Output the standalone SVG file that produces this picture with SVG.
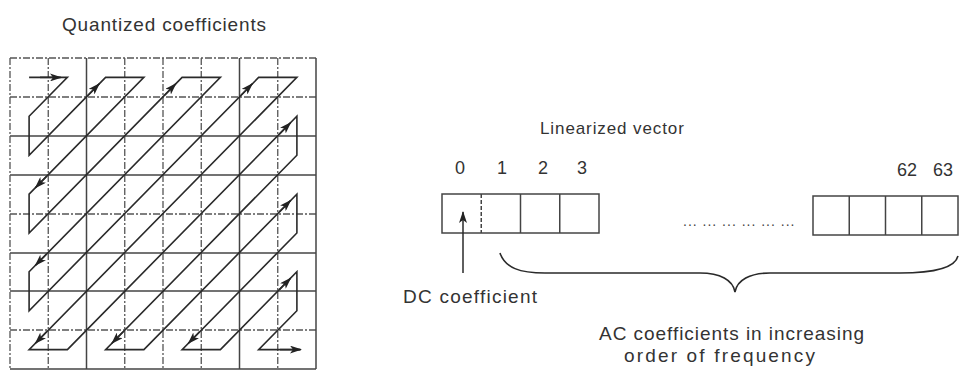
<svg xmlns="http://www.w3.org/2000/svg" width="963" height="379" viewBox="0 0 963 379">
<defs>
<marker id="ah" markerWidth="12" markerHeight="8" refX="11" refY="4" orient="auto" markerUnits="userSpaceOnUse">
<path d="M0,0 L12,4 L0,8 L3,4 Z" fill="#222"/>
</marker>
<style>
text{font-family:"Liberation Sans",Arial,sans-serif;fill:#333;}
.t{font-size:19px;letter-spacing:1px;}
.n{font-size:18px;text-anchor:middle;}
.g{stroke:#444;stroke-width:1.5;fill:none;}
.gd{stroke:#555;stroke-width:1.3;fill:none;stroke-dasharray:7 2 2 2;}
.z{stroke:#2a2a2a;stroke-width:1.6;fill:none;stroke-linejoin:miter;}
.a{stroke:#2a2a2a;stroke-width:1.6;fill:none;marker-end:url(#ah);}
.box{stroke:#444;stroke-width:1.5;fill:none;}
</style>
</defs>
<rect width="963" height="379" fill="#fff"/>

<g id="title"><text class="t" x="62" y="31" textLength="205" lengthAdjust="spacing">Quantized coefficients</text></g>

<g id="grid">
<line class="gd" x1="10" y1="58" x2="316" y2="58"/>
<line class="gd" x1="10" y1="97" x2="316" y2="97"/>
<line class="g" x1="10" y1="136" x2="316" y2="136"/>
<line class="g" x1="10" y1="175" x2="316" y2="175"/>
<line class="gd" x1="10" y1="214" x2="316" y2="214"/>
<line class="g" x1="10" y1="253" x2="316" y2="253"/>
<line class="g" x1="10" y1="291" x2="316" y2="291"/>
<line class="gd" x1="10" y1="330" x2="316" y2="330"/>
<line class="g" x1="10" y1="369" x2="316" y2="369"/>
<line class="gd" x1="10" y1="58" x2="10" y2="369"/>
<line class="gd" x1="48.25" y1="58" x2="48.25" y2="369"/>
<line class="g" x1="86.5" y1="58" x2="86.5" y2="369"/>
<line class="gd" x1="124.75" y1="58" x2="124.75" y2="369"/>
<line class="gd" x1="163" y1="58" x2="163" y2="369"/>
<line class="gd" x1="201.25" y1="58" x2="201.25" y2="369"/>
<line class="g" x1="239.5" y1="58" x2="239.5" y2="369"/>
<line class="gd" x1="277.75" y1="58" x2="277.75" y2="369"/>
<line class="g" x1="316" y1="58" x2="316" y2="369"/>
</g>

<g id="zigzag">
<polyline class="z" points="29.1,77.4 67.4,77.4 29.1,116.3 29.1,155.2 105.6,77.4 143.9,77.4 29.1,194.1 29.1,233 182.1,77.4 220.4,77.4 29.1,271.8 29.1,310.7 258.6,77.4 296.9,77.4 29.1,349.6 67.4,349.6 296.9,116.3 296.9,155.2 105.6,349.6 143.9,349.6 296.9,194.1 296.9,233 182.1,349.6 220.4,349.6 296.9,271.8 296.9,310.7 258.6,349.6 300,349.6"/>
<line class="a" x1="40" y1="77.4" x2="61" y2="77.4"/>
<line class="a" x1="88.1" y1="95.2" x2="99.3" y2="83.8"/>
<line class="a" x1="164.6" y1="95.2" x2="175.8" y2="83.8"/>
<line class="a" x1="241.1" y1="95.2" x2="252.3" y2="83.8"/>
<line class="a" x1="279.4" y1="134.1" x2="290.6" y2="122.7"/>
<line class="a" x1="279.4" y1="211.9" x2="290.6" y2="200.5"/>
<line class="a" x1="279.4" y1="289.6" x2="290.6" y2="278.2"/>
<line class="a" x1="46.6" y1="176.3" x2="35.4" y2="187.7"/>
<line class="a" x1="46.6" y1="254" x2="35.4" y2="265.4"/>
<line class="a" x1="46.6" y1="331.8" x2="35.4" y2="343.2"/>
<line class="a" x1="123.1" y1="331.8" x2="111.9" y2="343.2"/>
<line class="a" x1="199.6" y1="331.8" x2="188.4" y2="343.2"/>
<line class="a" x1="280" y1="349.6" x2="301" y2="349.6"/>
</g>

<g id="vector-label"><text x="540" y="134" style="font-size:17px;letter-spacing:0.9px">Linearized vector</text></g>

<g id="indices">
<text class="n" x="460" y="174">0</text>
<text class="n" x="502" y="174">1</text>
<text class="n" x="543" y="174">2</text>
<text class="n" x="582" y="174">3</text>
<text class="n" x="907" y="176">62</text>
<text class="n" x="943" y="176">63</text>
</g>

<g id="vector-start">
<rect x="442" y="194" width="157" height="39" fill="#fbfbfb" class="box"/>
<line x1="481.25" y1="194" x2="481.25" y2="233" stroke="#444" stroke-width="1.5" stroke-dasharray="4 2"/>
<line x1="520.5" y1="194" x2="520.5" y2="233" stroke="#444" stroke-width="1.5"/>
<line x1="559.75" y1="194" x2="559.75" y2="233" stroke="#444" stroke-width="1.5"/>
</g>

<g id="ellipsis"><text x="683" y="226" style="font-size:14px;letter-spacing:1px;fill:#444">... ... ... ... ... ...</text></g>

<g id="vector-end">
<rect x="813" y="196" width="145" height="39" fill="none" class="box"/>
<line x1="849.25" y1="196" x2="849.25" y2="235" stroke="#444" stroke-width="1.5"/>
<line x1="885.5" y1="196" x2="885.5" y2="235" stroke="#444" stroke-width="1.5"/>
<line x1="921.75" y1="196" x2="921.75" y2="235" stroke="#444" stroke-width="1.5"/>
</g>

<g id="connectors">
<line x1="463" y1="273" x2="463" y2="212" stroke="#2a2a2a" stroke-width="1.5" marker-end="url(#ah)"/>
<path d="M500,253 C505,268 520,273 545,273 L700,273 C720,273 733,280 735,292 C737,280 750,273 770,273 L900,273 C935,273 955,268 958,256" fill="none" stroke="#2a2a2a" stroke-width="1.6"/>
</g>

<g id="dc-label"><text class="t" x="403" y="303" textLength="135" lengthAdjust="spacing">DC coefficient</text></g>
<g id="ac-label">
<text class="t" x="599" y="340" textLength="266" lengthAdjust="spacing">AC coefficients in increasing</text>
<text class="t" x="624" y="362" textLength="192" lengthAdjust="spacing">order of frequency</text>
</g>
</svg>
